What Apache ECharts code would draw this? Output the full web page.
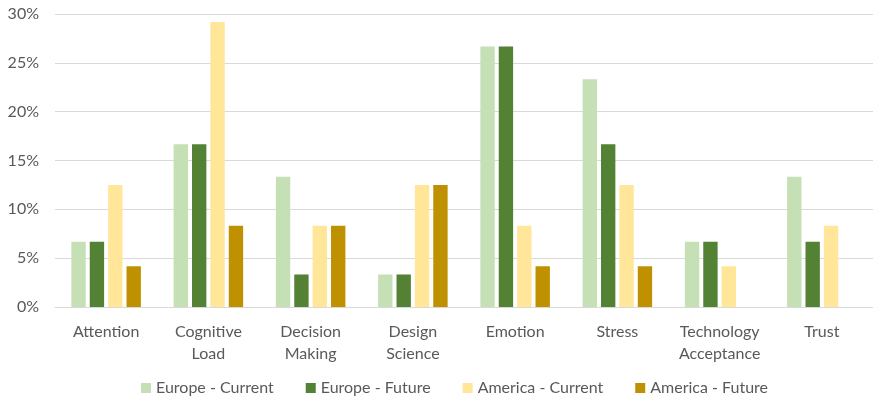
<!DOCTYPE html>
<html>
<head>
<meta charset="utf-8">
<script src="https://cdn.jsdelivr.net/npm/echarts@6/dist/echarts.min.js"></script>
<style>
  html, body { margin: 0; padding: 0; background: #fff; }
  #chart-container { width: 873px; height: 404px; }
</style>
</head>
<body>
<div id="chart-container"></div>
<script>
// Data (percent)
const categories = ['Attention', 'Cognitive\nLoad', 'Decision\nMaking', 'Design\nScience',
    'Emotion', 'Stress', 'Technology\nAcceptance', 'Trust'];
const seriesNames = ['Europe - Current', 'Europe - Future', 'America - Current', 'America - Future'];
const europeCurrent = [6.67, 16.67, 13.33, 3.33, 26.67, 23.33, 6.67, 13.33];
const europeFuture = [6.67, 16.67, 3.33, 3.33, 26.67, 16.67, 6.67, 6.67];
const americaCurrent = [12.5, 29.17, 8.33, 12.5, 8.33, 12.5, 4.17, 8.33];
const americaFuture = [4.17, 8.33, 8.33, 12.5, 4.17, 4.17, 0, 0];
const yTicks = [0, 5, 10, 15, 20, 25, 30];

const colors = ['#c5e0b4', '#548235', '#ffe699', '#bf9000'];
const textColor = '#595959';
const font = 'Lato';

const chartDom = document.getElementById('chart-container');
const myChart = echarts.init(chartDom, null, { renderer: 'canvas' });

const allData = [europeCurrent, europeFuture, americaCurrent, americaFuture];

// plot area runs a bit past the right edge (the reference is cropped there)
const option = {
    animation: false,
    color: colors,
    grid: { left: 55, width: 824, top: 14, bottom: 97, containLabel: false },
    legend: {
        bottom: 3,
        left: 136,
        itemWidth: 10,
        itemHeight: 10,
        itemGap: 32,
        icon: 'rect',
        textStyle: { color: textColor, fontSize: 16, fontFamily: font },
        data: seriesNames
    },
    xAxis: {
        type: 'category',
        data: categories,
        axisTick: { show: false },
        axisLine: { lineStyle: { color: '#d9d9d9', width: 1 } },
        axisLabel: { color: textColor, fontSize: 16, fontFamily: font, margin: 14, lineHeight: 22, interval: 0 }
    },
    yAxis: {
        type: 'value',
        min: yTicks[0],
        max: yTicks[yTicks.length - 1],
        interval: 5,
        axisLine: { show: false },
        axisTick: { show: false },
        splitLine: { lineStyle: { color: '#d9d9d9', width: 1 } },
        axisLabel: { color: textColor, fontSize: 16, fontFamily: font, margin: 16,
            formatter: function (v) { return v + '%'; } }
    },
    series: seriesNames.map(function (name, i) {
        return {
            name: name,
            type: 'bar',
            data: allData[i],
            barGap: '28%',
            barCategoryGap: '32%'
        };
    })
};
myChart.setOption(option);
</script>
</body>
</html>
